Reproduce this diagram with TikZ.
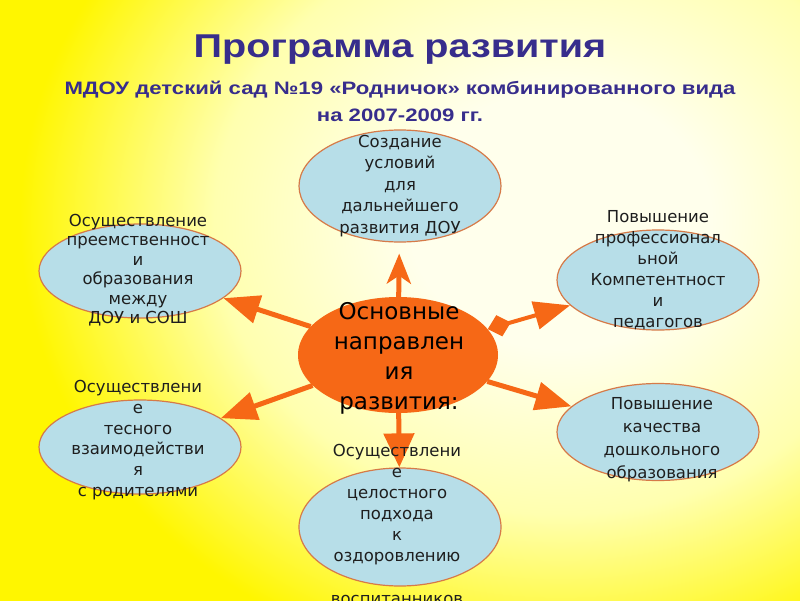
\documentclass[tikz,border=0pt]{standalone}
\usepackage{fontspec}
\setmainfont{DejaVu Sans}
\newfontfamily\titlefont{Liberation Sans}
\usetikzlibrary{arrows.meta,shapes.geometric}
\definecolor{bgin}{RGB}{255,255,236}
\definecolor{bgmid}{RGB}{255,255,175}
\definecolor{bgout}{RGB}{255,246,0}
\definecolor{ttl}{RGB}{55,45,140}
\definecolor{orng}{RGB}{246,104,22}
\definecolor{bluefill}{RGB}{183,222,232}
\definecolor{brd}{RGB}{214,122,72}
\definecolor{txt}{RGB}{30,30,30}
\pgfdeclareradialshading{bgshade}{\pgfpoint{0bp}{0bp}}{color(0bp)=(bgin); color(7bp)=(bgin); color(16bp)=(bgmid); color(25bp)=(bgout); color(50bp)=(bgout)}
\begin{document}
\begin{tikzpicture}[x=1pt,y=-1pt,
  bub/.style={ellipse, draw=brd, line width=1.2pt, fill=bluefill, inner sep=0pt, minimum width=202pt},
  core/.style={ellipse, fill=orng, inner sep=0pt, minimum width=200pt, minimum height=116pt},
  btxt/.style={align=center, text=txt},
  conn/.style={draw=orng, line width=5pt},
  ttlstyle/.style={text=ttl, anchor=base, inner sep=0pt}]
\useasboundingbox (0,0) rectangle (800,600);
\clip (-3,-3) rectangle (803,603);
\fill[bgout] (-3,-3) rectangle (803,603);
\shade[shading=bgshade] (560,220) ellipse [x radius=540, y radius=460];

\node[ttlstyle, font=\titlefont\bfseries\fontsize{33}{40}\selectfont] (title) at (400,57) {\scalebox{1.2}[1]{Программа развития}};
\node[ttlstyle, font=\titlefont\bfseries\fontsize{18}{21}\selectfont] (sub1) at (400,94) {\scalebox{1.23}[1]{МДОУ детский сад №19 «Родничок» комбинированного вида}};
\node[ttlstyle, font=\titlefont\bfseries\fontsize{18}{21}\selectfont] (sub2) at (400,121) {\scalebox{1.23}[1]{на 2007-2009 гг.}};

\node[core] (c) at (398,355) {};
\node[bub, minimum height=112pt] (t) at (400,186) {};
\node[bub, minimum height=94pt] (ul) at (140,271) {};
\node[bub, minimum height=100pt] (ur) at (658,280) {};
\node[bub, minimum height=94pt] (ll) at (140,447) {};
\node[bub, minimum height=97pt] (lr) at (658,432) {};
\node[bub, minimum height=118pt] (b) at (400,527) {};

\draw[conn, -{Stealth[length=30pt,width=24pt,inset=8pt]}, shorten >=11pt] (c) -- (t);
\draw[conn, -{Triangle[length=36pt,width=28pt]}] (c) -- (ul);
\draw[conn, line width=4pt, {Kite[length=24pt,width=22pt,inset=12pt]}-{Triangle[length=36pt,width=28pt]}] (c) -- (ur);
\draw[conn, -{Triangle[length=36pt,width=28pt]}] (c) -- (ll);
\draw[conn, -{Triangle[length=36pt,width=28pt]}] (c) -- (lr);
\draw[conn, -{Triangle[length=34pt,width=30pt]}] (c) -- (b);

\node[btxt, font=\fontsize{23}{30}\selectfont, text=black] (ct) at (399,358) {Основные\\направлен\\ия\\развития:};
\node[btxt, font=\fontsize{16.5}{21.5}\selectfont] (tt) at (400,186) {Создание\\условий\\для\\дальнейшего\\развития ДОУ};
\node[btxt, font=\fontsize{16.5}{19.5}\selectfont] (ult) at (138,270) {Осуществление\\преемственност\\и\\образования\\между\\ДОУ и СОШ};
\node[btxt, font=\fontsize{16.5}{21}\selectfont] (urt) at (658,270.5) {Повышение\\профессионал\\ьной\\Компетентност\\и\\педагогов};
\node[btxt, font=\fontsize{16.5}{20.8}\selectfont] (llt) at (138,440) {Осуществлени\\е\\тесного\\взаимодействи\\я\\с родителями};
\node[btxt, font=\fontsize{16.5}{23}\selectfont] (lrt) at (662,440) {Повышение\\качества\\дошкольного\\образования};
\node[btxt, font=\fontsize{16.5}{21}\selectfont] (bt) at (397,504.5) {Осуществлени\\е\\целостного\\подхода\\к\\оздоровлению};
\node[btxt, font=\fontsize{16.5}{21}\selectfont] (bt2) at (397,600) {воспитанников};
\end{tikzpicture}
\end{document}
